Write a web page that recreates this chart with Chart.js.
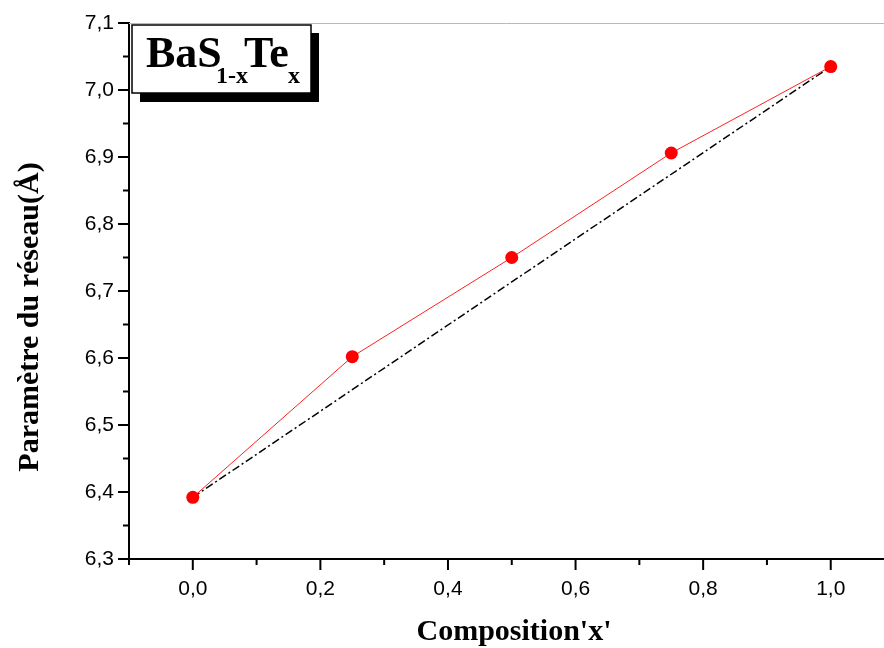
<!DOCTYPE html>
<html>
<head>
<meta charset="utf-8">
<script src="https://cdn.jsdelivr.net/npm/chart.js@4.4.1/dist/chart.umd.min.js"></script>
<style>
  html, body { margin: 0; padding: 0; background: #fff; }
  #wrap { width: 884px; height: 648px; }
</style>
</head>
<body>
<div id="wrap"><canvas id="myChart" width="884" height="648"></canvas></div>
<script>
// data
const composition = [0, 0.25, 0.5, 0.75, 1.0];
const latticeParam = [6.392, 6.602, 6.750, 6.906, 7.035];
const vegardX = [0, 1.0];
const vegardY = [6.392, 7.035];

// tick values / labels
const xMajorTicks = [0, 0.2, 0.4, 0.6, 0.8, 1.0];
const xMinorTicks = [-0.1, 0.1, 0.3, 0.5, 0.7, 0.9];
const yMajorTicks = [6.3, 6.4, 6.5, 6.6, 6.7, 6.8, 6.9, 7.0, 7.1];
const yMinorTicks = [6.35, 6.45, 6.55, 6.65, 6.75, 6.85, 6.95, 7.05];

const xTitle = "Composition'x'";
const yTitle = "Paramètre du réseau(Å)";

const serifBold = "bold 30px 'Liberation Serif', 'Times New Roman', serif";

function fmt(v) {
    return Number(v).toFixed(1).replace('.', ',');
}

// draws minor/major tick marks, top frame line, axis titles and the label box
const decorPlugin = {
    id: 'decor',
    afterDraw(chart) {
        const ctx = chart.ctx;
        const area = chart.chartArea;
        const xs = chart.scales.x;
        const ys = chart.scales.y;

        ctx.save();
        // top frame line (light gray)
        ctx.strokeStyle = '#b8b8b8';
        ctx.lineWidth = 1;
        ctx.beginPath();
        ctx.moveTo(area.left, area.top + 0.5);
        ctx.lineTo(area.right, area.top + 0.5);
        ctx.stroke();

        // ticks
        ctx.strokeStyle = '#000';
        ctx.lineWidth = 2;
        ctx.beginPath();
        xMajorTicks.forEach(v => {
            const px = xs.getPixelForValue(v);
            ctx.moveTo(px, area.bottom);
            ctx.lineTo(px, area.bottom + 11);
        });
        xMinorTicks.forEach(v => {
            const px = xs.getPixelForValue(v);
            ctx.moveTo(px, area.bottom);
            ctx.lineTo(px, area.bottom + 6);
        });
        yMajorTicks.forEach(v => {
            const py = ys.getPixelForValue(v);
            ctx.moveTo(area.left, py);
            ctx.lineTo(area.left - 11, py);
        });
        yMinorTicks.forEach(v => {
            const py = ys.getPixelForValue(v);
            ctx.moveTo(area.left, py);
            ctx.lineTo(area.left - 6, py);
        });
        ctx.stroke();

        // axis titles
        ctx.fillStyle = '#000';
        ctx.font = serifBold;
        ctx.textAlign = 'center';
        ctx.textBaseline = 'middle';
        ctx.fillText(xTitle, 514, 632);

        ctx.save();
        ctx.translate(30, 317);
        ctx.rotate(-Math.PI / 2);
        ctx.fillText(yTitle, 0, 0);
        ctx.restore();

        // label box with shadow
        ctx.fillStyle = '#000';
        ctx.fillRect(140, 33, 179, 69);
        ctx.fillStyle = '#fff';
        ctx.fillRect(132, 25, 179, 68);
        ctx.strokeStyle = '#000';
        ctx.lineWidth = 1.5;
        ctx.strokeRect(132, 25, 179, 68);

        ctx.fillStyle = '#000';
        ctx.textAlign = 'left';
        ctx.textBaseline = 'alphabetic';
        ctx.font = "bold 44px 'Liberation Serif', 'Times New Roman', serif";
        ctx.fillText('BaS', 146, 67);
        ctx.fillText('Te', 244, 67);
        ctx.font = "bold 24px 'Liberation Serif', 'Times New Roman', serif";
        ctx.fillText('1-x', 216, 83);
        ctx.fillText('x', 288, 83);
        ctx.restore();
    }
};

const ctx = document.getElementById('myChart').getContext('2d');
new Chart(ctx, {
    type: 'scatter',
    data: {
        datasets: [{
            label: 'a',
            data: composition.map((c, i) => ({ x: c, y: latticeParam[i] })),
            showLine: true,
            borderColor: '#ff2020',
            borderWidth: 1,
            pointRadius: 6.5,
            pointBackgroundColor: '#ff0000',
            pointBorderColor: '#ff0000',
            pointBorderWidth: 0,
            order: 0
        }, {
            label: 'Vegard',
            data: vegardX.map((c, i) => ({ x: c, y: vegardY[i] })),
            showLine: true,
            borderColor: '#000',
            borderWidth: 1.5,
            borderDash: [8, 3, 2, 3],
            pointRadius: 0,
            order: 1
        }]
    },
    options: {
        responsive: false,
        animation: false,
        layout: { autoPadding: false, padding: { top: 23, right: 0, left: 0, bottom: 0 } },
        plugins: {
            legend: { display: false },
            tooltip: { enabled: false }
        },
        scales: {
            x: {
                type: 'linear',
                min: -0.1,
                max: 1.0835,
                afterBuildTicks: s => { s.ticks = xMajorTicks.map(v => ({ value: v })); },
                afterFit: s => {
                    s.height = 89;
                    s.paddingLeft = 0;
                    s.paddingRight = 0;
                },
                grid: { display: true, drawOnChartArea: false, drawTicks: false },
                border: { display: true, color: '#000', width: 2 },
                ticks: {
                    color: '#000',
                    padding: 18,
                    maxRotation: 0,
                    font: { family: "'Liberation Sans', Arial, sans-serif", size: 21 },
                    callback: v => fmt(v)
                }
            },
            y: {
                type: 'linear',
                min: 6.3,
                max: 7.1,
                afterBuildTicks: s => { s.ticks = yMajorTicks.map(v => ({ value: v })); },
                afterFit: s => {
                    s.width = 129;
                    s.paddingTop = 0;
                    s.paddingBottom = 0;
                },
                grid: { display: true, drawOnChartArea: false, drawTicks: false },
                border: { display: true, color: '#000', width: 2 },
                ticks: {
                    color: '#000',
                    padding: 15,
                    font: { family: "'Liberation Sans', Arial, sans-serif", size: 21 },
                    callback: v => fmt(v)
                }
            }
        }
    },
    plugins: [decorPlugin]
});
</script>
</body>
</html>
